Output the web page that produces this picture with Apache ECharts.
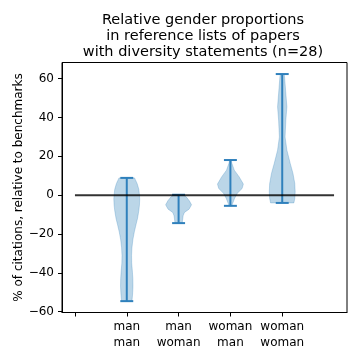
<!DOCTYPE html>
<html>
<head>
<meta charset="utf-8">
<script src="https://cdn.jsdelivr.net/npm/echarts@6/dist/echarts.min.js"></script>
<style>html,body{margin:0;padding:0;background:#fff}#c{width:360px;height:360px}</style>
</head>
<body>
<div id="c"></div>
<script>
const categories = ['', 'man\nman', 'man\nwoman', 'woman\nman', 'woman\nwoman'];
const positions = [1, 2, 3, 4];
const mins = [-54.6, -14.4, -5.5, -4.0];
const maxs = [8.9, 0.2, 18.1, 62.4];
const yTicks = [-60, -40, -20, 0, 20, 40, 60];
const violin1Y = [8.9, 6, 3, 0, -2, -5, -8, -12, -15, -19, -23, -27, -31, -35, -39, -43, -47, -51, -54.6];
const violin1W = [0.6, 0.8, 0.93, 0.98, 1.0, 0.98, 0.93, 0.83, 0.72, 0.58, 0.47, 0.4, 0.37, 0.38, 0.43, 0.47, 0.48, 0.45, 0.4];
const violin2Y = [0.2, -1, -2.9, -5, -7.2, -8.9, -10.6, -13.2, -14.4];
const violin2W = [0.35, 0.6, 0.83, 1.0, 0.81, 0.45, 0.35, 0.3, 0.28];
const violin3Y = [18.1, 16.3, 12.9, 9.4, 5.7, 3.4, 0.9, -1.7, -4.3, -5.5];
const violin3W = [0.05, 0.12, 0.3, 0.68, 1.0, 0.9, 0.52, 0.32, 0.17, 0.1];
const violin4Y = [62.4, 61, 54, 45.5, 38.7, 30, 23.2, 16.3, 11.2, 6, 1.7, -1.7, -4.0];
const violin4W = [0.15, 0.18, 0.26, 0.36, 0.28, 0.22, 0.36, 0.62, 0.83, 0.97, 1.0, 0.97, 0.9];
const refLine = [[0, 0], [5, 0]];

const profiles = [[violin1Y, violin1W], [violin2Y, violin2W], [violin3Y, violin3W], [violin4Y, violin4W]];
const HALF = 0.25, CAP = 0.125;
const BLUE = '#2f80bc';
const FONT = 'DejaVu Sans';
const FS = 12;

const chart = echarts.init(document.getElementById('c'), null, {renderer: 'canvas'});
chart.setOption({
  animation: false,
  title: {
    text: 'Relative gender proportions\nin reference lists of papers\nwith diversity statements (n=28)',
    left: 198, top: 7, textAlign: 'center',
    textStyle: {fontFamily: FONT, fontSize: 14.5, fontWeight: 'normal', color: '#000', lineHeight: 16}
  },
  grid: {left: 62, right: 13, top: 62.5, bottom: 47.5, show: true, borderColor: '#000', borderWidth: 1},
  xAxis: {
    type: 'value', min: -0.25, max: 5.25,
    splitLine: {show: false},
    axisLine: {onZero: false, lineStyle: {color: '#000'}},
    axisTick: {show: true, length: 4, lineStyle: {color: '#000'}, customValues: [0, 1, 2, 3, 4]},
    axisLabel: {customValues: [0, 1, 2, 3, 4], formatter: v => categories[Math.round(v)], fontFamily: FONT, fontSize: FS, color: '#000', lineHeight: 16, margin: 6}
  },
  yAxis: {
    type: 'value', min: -60.45, max: 68.35,
    splitLine: {show: false},
    axisLine: {onZero: false, lineStyle: {color: '#000'}},
    axisTick: {show: true, length: 4, lineStyle: {color: '#000'}, customValues: yTicks},
    axisLabel: {customValues: yTicks, formatter: v => String(v).replace('-', '\u2212'), fontFamily: FONT, fontSize: FS, color: '#000', margin: 8},
    name: '% of citations, relative to benchmarks', nameLocation: 'middle', nameRotate: 90, nameGap: 37,
    nameMoveOverlap: false,
    nameTextStyle: {fontFamily: FONT, fontSize: FS, color: '#000'}
  },
  series: [
    {
      type: 'custom', z: 1,
      data: positions.map((p, i) => [p, i]),
      renderItem: (params, api) => {
        const p = api.value(0), i = api.value(1);
        const [ys, ws] = profiles[i];
        const left = ys.map((y, k) => api.coord([p - HALF * ws[k], y]));
        const right = ys.map((y, k) => api.coord([p + HALF * ws[k], y])).reverse();
        return {type: 'polygon', shape: {points: left.concat(right)},
          style: {fill: 'rgba(31,119,180,0.3)', stroke: 'rgba(31,119,180,0.3)', lineWidth: 0.8}};
      }
    },
    {
      type: 'custom', z: 2,
      data: positions.map((p, i) => [p, mins[i], maxs[i]]),
      renderItem: (params, api) => {
        const p = api.value(0), lo = api.value(1), hi = api.value(2);
        const a = api.coord([p, lo]), b = api.coord([p, hi]);
        const c1 = api.coord([p - CAP, lo]), c2 = api.coord([p + CAP, lo]);
        const d1 = api.coord([p - CAP, hi]), d2 = api.coord([p + CAP, hi]);
        const st = {stroke: BLUE, lineWidth: 2};
        return {type: 'group', children: [
          {type: 'line', shape: {x1: a[0], y1: a[1], x2: b[0], y2: b[1]}, style: st},
          {type: 'line', shape: {x1: c1[0], y1: c1[1], x2: c2[0], y2: c2[1]}, style: st},
          {type: 'line', shape: {x1: d1[0], y1: d1[1], x2: d2[0], y2: d2[1]}, style: st}
        ]};
      }
    },
    {
      type: 'line', z: 3, data: refLine, symbol: 'none',
      lineStyle: {color: 'rgba(0,0,0,0.8)', width: 2}
    }
  ]
});
</script>
</body>
</html>
